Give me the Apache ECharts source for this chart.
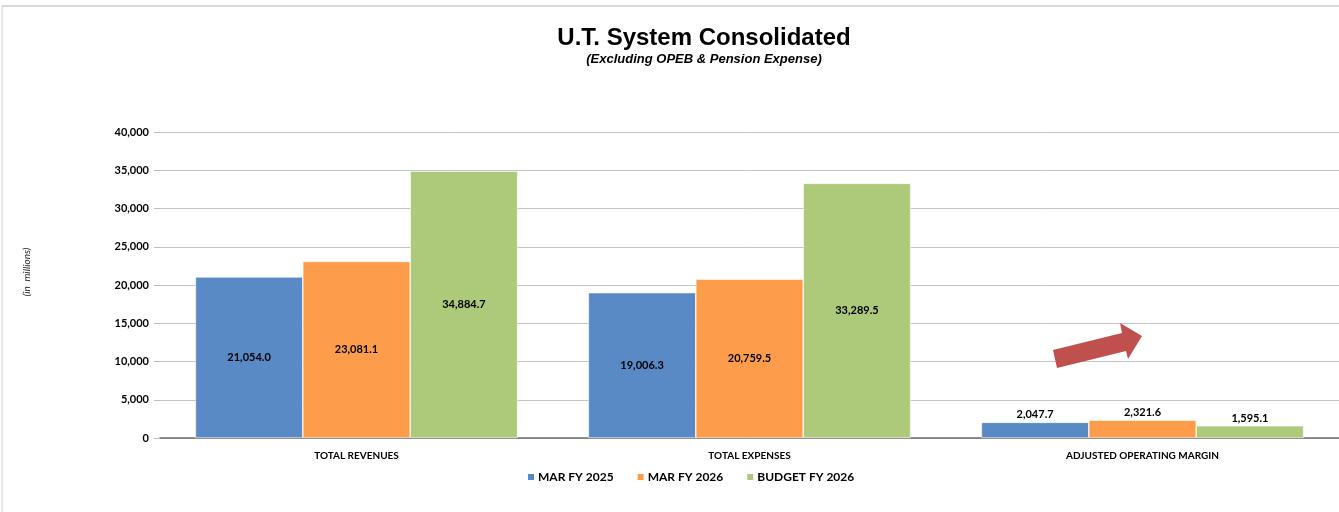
<!DOCTYPE html>
<html>
<head>
<meta charset="utf-8">
<title>U.T. System Consolidated</title>
<script src="https://cdn.jsdelivr.net/npm/echarts@6/dist/echarts.min.js"></script>
<style>
  html, body { margin: 0; padding: 0; background: #fff; }
  #main { width: 1339px; height: 512px; }
</style>
</head>
<body>
<div id="main"></div>
<script>
// chart data
var categories = ['TOTAL REVENUES', 'TOTAL EXPENSES', 'ADJUSTED OPERATING MARGIN'];
var seriesNames = ['MAR FY 2025', 'MAR FY 2026', 'BUDGET FY 2026'];
var marFy2025 = [21054.0, 19006.3, 2047.7];
var marFy2026 = [23081.1, 20759.5, 2321.6];
var budgetFy2026 = [34884.7, 33289.5, 1595.1];
var yTicks = [0, 5000, 10000, 15000, 20000, 25000, 30000, 35000, 40000];

var colors = ['#5a8ac6', '#fd9d4b', '#adc97a'];
var labelFont = 'Lato, "Open Sans", sans-serif';

function fmt(v) {
  return v.toLocaleString('en-US', {minimumFractionDigits: 1, maximumFractionDigits: 1});
}

// small bars get their label on top, tall bars in the middle
function toItems(arr) {
  return arr.map(function (v) {
    return {
      value: v,
      label: {position: v < 5000 ? 'top' : 'inside', distance: 2}
    };
  });
}

var allSeries = [marFy2025, marFy2026, budgetFy2026].map(function (d, i) {
  return {
    name: seriesNames[i],
    type: 'bar',
    barGap: '0%',
    barCategoryGap: '18%',
    itemStyle: {color: colors[i], borderColor: '#ffffff', borderWidth: 0.6},
    label: {
      show: true,
      color: '#000',
      fontFamily: labelFont,
      fontWeight: 'bold',
      fontSize: 11,
      formatter: function (p) { return fmt(p.value); }
    },
    data: toItems(d)
  };
});

var option = {
  animation: false,
  title: {
    text: 'U.T. System Consolidated',
    subtext: '(Excluding OPEB & Pension Expense)',
    left: 699,
    textAlign: 'center',
    top: 21,
    itemGap: 3,
    textStyle: {fontFamily: '"Liberation Sans", Arial, sans-serif', fontWeight: 'bold', fontSize: 24, color: '#000'},
    subtextStyle: {fontFamily: '"Liberation Sans", Arial, sans-serif', fontWeight: 'bold', fontStyle: 'italic', fontSize: 13, color: '#000'}
  },
  legend: {
    data: seriesNames,
    bottom: 24,
    left: 521,
    itemWidth: 8,
    itemHeight: 8,
    itemGap: 22,
    icon: 'rect',
    textStyle: {fontFamily: labelFont, fontWeight: 'bold', fontSize: 12, color: '#000', padding: [0, 0, 0, -2]}
  },
  grid: {left: 160, right: 0, top: 132, bottom: 74, containLabel: false},
  xAxis: {
    type: 'category',
    data: categories,
    axisLine: {lineStyle: {color: '#6e6e6e', width: 1.5}},
    axisTick: {show: false},
    axisLabel: {fontFamily: labelFont, fontWeight: 'bold', fontSize: 10, color: '#000', margin: 13}
  },
  yAxis: {
    type: 'value',
    min: yTicks[0],
    max: yTicks[yTicks.length - 1],
    interval: yTicks[1] - yTicks[0],
    axisLine: {show: false},
    axisTick: {show: true, length: 6, lineStyle: {color: '#bdbdbd'}},
    splitLine: {lineStyle: {color: '#c4c4c4', width: 1}},
    axisLabel: {
      fontFamily: labelFont, fontWeight: 'bold', fontSize: 11, color: '#000', margin: 11,
      formatter: function (v) { return v.toLocaleString('en-US'); }
    }
  },
  graphic: [
    // outer frame of the slide
    {type: 'line', shape: {x1: 2, y1: 6, x2: 1339, y2: 6}, style: {stroke: '#cfcfcf', lineWidth: 1.5}},
    {type: 'line', shape: {x1: 2, y1: 6, x2: 2, y2: 512}, style: {stroke: '#cfcfcf', lineWidth: 1}},
    // y axis unit note
    {
      type: 'text', x: 27, y: 272, rotation: Math.PI / 2,
      style: {text: '(in  millions)', fontFamily: labelFont, fontStyle: 'italic', fontSize: 10, fill: '#222', align: 'center', verticalAlign: 'middle'}
    },
    // red arrow pointing up to the right
    {
      type: 'polygon',
      z: 100,
      shape: {points: [[1053, 350], [1122, 333], [1120, 323], [1142, 336], [1128, 359], [1126, 351], [1057, 368]]},
      style: {fill: '#c0504d'}
    }
  ],
  series: allSeries
};

var chart = echarts.init(document.getElementById('main'));
chart.setOption(option);
</script>
</body>
</html>
